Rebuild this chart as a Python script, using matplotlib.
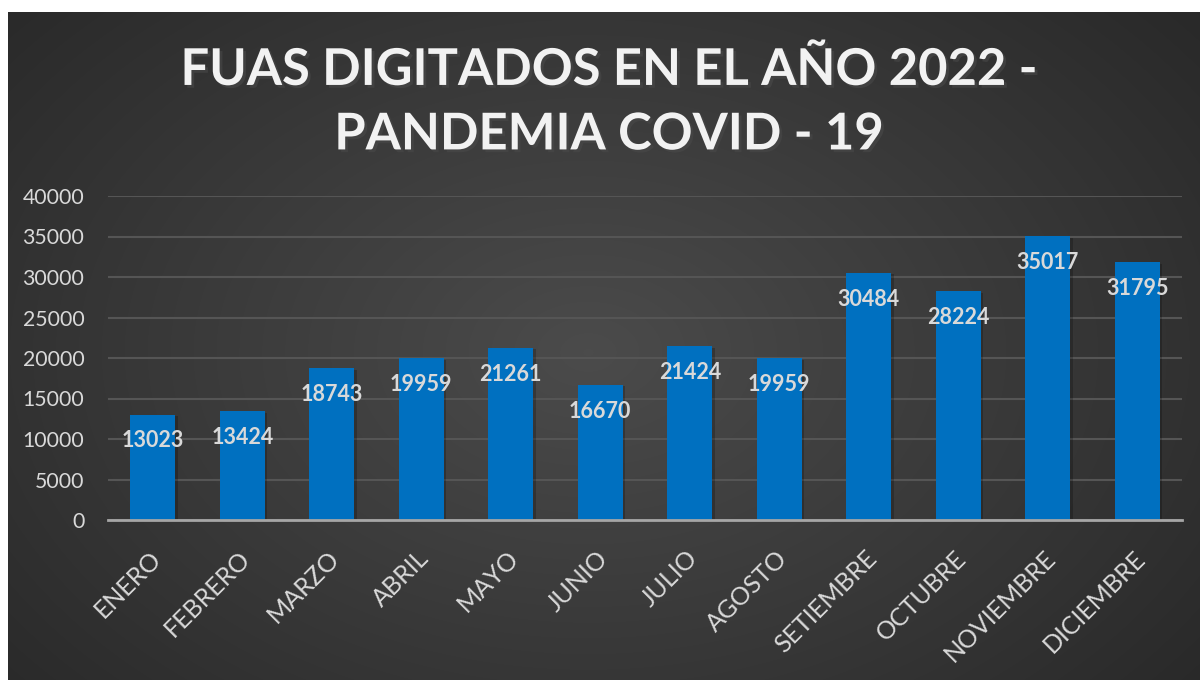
import numpy as np
import matplotlib
matplotlib.use('Agg')
import matplotlib.pyplot as plt
import matplotlib.patheffects as pe

# data
months = ['ENERO', 'FEBRERO', 'MARZO', 'ABRIL', 'MAYO', 'JUNIO', 'JULIO',
          'AGOSTO', 'SETIEMBRE', 'OCTUBRE', 'NOVIEMBRE', 'DICIEMBRE']
fuas = [13023, 13424, 18743, 19959, 21261, 16670, 21424, 19959,
        30484, 28224, 35017, 31795]
yticks = [0, 5000, 10000, 15000, 20000, 25000, 30000, 35000, 40000]
title = 'FUAS DIGITADOS EN EL AÑO 2022 -\nPANDEMIA COVID - 19'

FONT = 'Lato'
TXT = '#d9d9d9'

fig = plt.figure(figsize=(12, 6.8), dpi=100)
fig.patch.set_facecolor('white')

# dark radial gradient background (chart area with white strip top/left)
bg = fig.add_axes([8 / 1200, 0, 1192 / 1200, 668 / 680])
bg.set_axis_off()
yy, xx = np.mgrid[0:668, 0:1192]
r = np.sqrt(((xx - 580) / 760.0) ** 2 + ((yy - 340) / 520.0) ** 2)
shade = np.clip(0.295 - 0.13 * r, 0.15, 0.295)
bg.imshow(np.dstack([shade] * 3), aspect='auto', interpolation='bilinear')

ax = fig.add_axes([108 / 1200, 1 - 520 / 680, 1074 / 1200, (520 - 196) / 680])
ax.patch.set_alpha(0)
x = np.arange(len(months))
bars = ax.bar(x, fuas, width=0.5, color='#0070C0', zorder=3)
for b in bars:
    b.set_path_effects([pe.SimplePatchShadow(offset=(2, -1), shadow_rgbFace='black', alpha=0.22),
                        pe.Normal()])

for xi, v in zip(x, fuas):
    ax.annotate(str(v), (xi, v), xytext=(0, -19), textcoords='offset points',
                ha='center', va='center', color=TXT, fontsize=15.5,
                fontweight='bold', family=FONT, zorder=5)

ax.set_ylim(0, 40000)
ax.set_xlim(-0.5, len(months) - 0.5)
ax.set_yticks(yticks)
ax.set_yticklabels([str(t) for t in yticks], family=FONT, fontsize=15.3, color=TXT)
ax.yaxis.grid(True, color='#555555', linewidth=1.5, zorder=0)
ax.set_axisbelow(True)
ax.tick_params(axis='y', length=0, pad=17)
ax.tick_params(axis='x', length=0)
ax.set_xticks(x)
ax.set_xticklabels([])
for xi, m in zip(x, months):
    ax.annotate(m, (xi, 0), xytext=(3, -25), textcoords='offset points',
                rotation=45, rotation_mode='anchor', ha='right', va='center',
                color=TXT, fontsize=18, family=FONT)
for s in ['top', 'right', 'left']:
    ax.spines[s].set_visible(False)
ax.spines['bottom'].set_color('#a6a6a6')
ax.spines['bottom'].set_linewidth(2)
ax.spines['bottom'].set_zorder(4)

fig.text(0.508, 0.849, title, ha='center', va='center', color='#f2f2f2',
         fontsize=36.5, fontweight='bold', family=FONT, linespacing=1.46,
         path_effects=[pe.SimplePatchShadow(offset=(2, -2), alpha=0.6), pe.Normal()])

fig.savefig('out.png', dpi=100)
